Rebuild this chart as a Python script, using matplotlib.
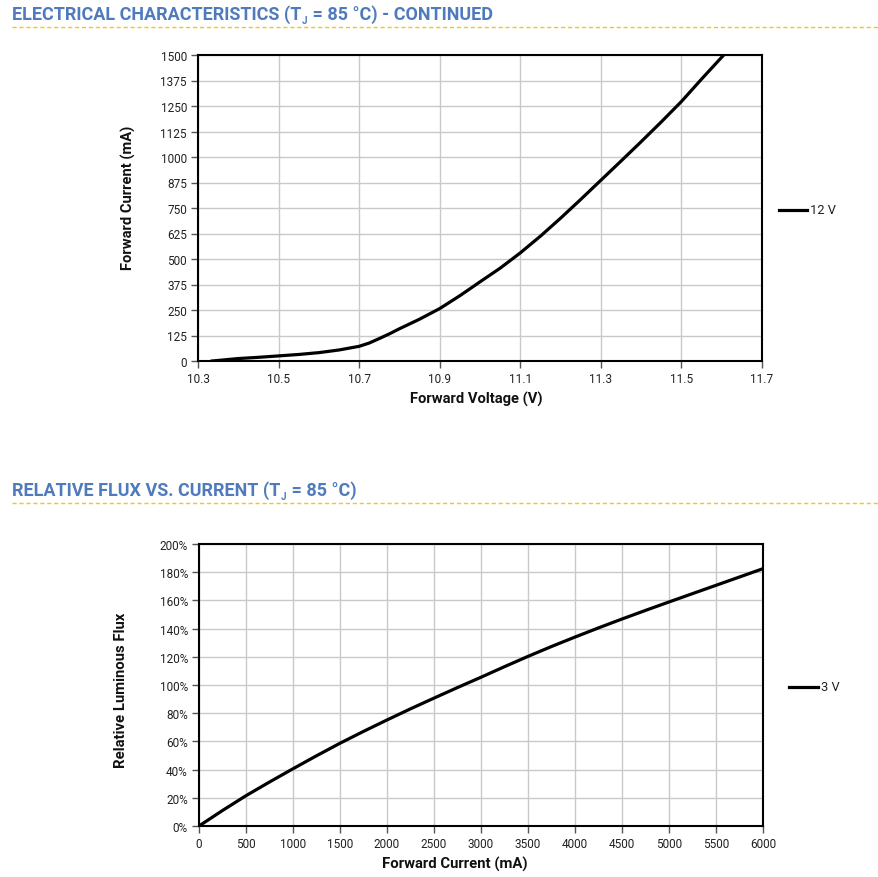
import matplotlib
matplotlib.use("Agg")
import matplotlib.pyplot as plt
from matplotlib.lines import Line2D

plt.rcParams['font.family'] = ['Roboto', 'DejaVu Sans']

# ---- data ----
voltage = [10.335, 10.4, 10.45, 10.5, 10.55, 10.6, 10.65, 10.7, 10.725, 10.75, 10.775, 10.8,
           10.85, 10.9, 10.95, 11.0, 11.05, 11.1, 11.15, 11.2, 11.25, 11.3, 11.35, 11.4,
           11.45, 11.5, 11.55, 11.605]
current_ma = [0, 12, 18, 25, 32, 41, 54, 72, 88, 110, 133, 158,
              205, 257, 320, 388, 455, 530, 612, 700, 792, 886, 980, 1075,
              1172, 1272, 1382, 1500]
v_ticks = [10.3, 10.5, 10.7, 10.9, 11.1, 11.3, 11.5, 11.7]
i_ticks = list(range(0, 1501, 125))

flux_current = [0, 250, 500, 750, 1000, 1250, 1500, 1750, 2000, 2250, 2500, 2750, 3000,
                3250, 3500, 3750, 4000, 4250, 4500, 4750, 5000, 5250, 5500, 5750, 6000]
rel_flux = [0, 11.0, 21.5, 31.2, 40.6, 49.8, 58.7, 67.1, 75.2, 83.1, 90.7, 98.2, 105.5,
            113.0, 120.3, 127.3, 134.0, 140.5, 146.8, 152.9, 158.9, 164.8, 170.7, 176.6, 182.5]
fc_ticks = list(range(0, 6001, 500))
rf_ticks = list(range(0, 201, 20))

W, H = 879, 878
fig = plt.figure(figsize=(W / 100, H / 100), dpi=100)

def fx(px):
    return px / W

def fy(py):
    return 1 - py / H

TITLE_COLOR = '#4f7bbe'
GRID_COLOR = '#c9c9c9'
LW = 2.3

def title_with_sub(x, y, pre, sub, post, size=13.0):
    t1 = fig.text(fx(x), fy(y), pre, fontsize=size, fontweight='bold',
                  color=TITLE_COLOR, va='baseline', ha='left')
    fig.canvas.draw()
    r = fig.canvas.get_renderer()
    bb = t1.get_window_extent(renderer=r)
    x2 = bb.x1 / fig.dpi * 100
    t2 = fig.text(fx(x2 + 0.5), fy(y + 4), sub, fontsize=size * 0.55, fontweight='bold',
                  color=TITLE_COLOR, va='baseline', ha='left')
    bb2 = t2.get_window_extent(renderer=r)
    x3 = bb2.x1 / fig.dpi * 100
    fig.text(fx(x3 + 0.5), fy(y), post, fontsize=size, fontweight='bold',
             color=TITLE_COLOR, va='baseline', ha='left')

def dashed_rule(py):
    fig.add_artist(Line2D([fx(12), fx(879)], [fy(py), fy(py)], transform=fig.transFigure,
                          color='#f2c811', linewidth=1.0, linestyle=(0, (3, 2))))

title_with_sub(12, 20, "ELECTRICAL CHARACTERISTICS (T", "J", " = 85 °C) - CONTINUED")
dashed_rule(28)
title_with_sub(12, 496, "RELATIVE FLUX VS. CURRENT (T", "J", " = 85 °C)")
dashed_rule(504)

def style_axes(ax):
    ax.grid(True, color=GRID_COLOR, linewidth=1.0)
    ax.set_axisbelow(True)
    for s in ax.spines.values():
        s.set_color('black')
        s.set_linewidth(1.5)
    ax.tick_params(direction='out', length=5, width=1, color='#555555',
                   labelsize=8.5, labelcolor='#222222', pad=3)

# ---- top chart ----
ax1 = fig.add_axes([fx(198), fy(362), fx(762) - fx(198), fy(56) - fy(362)])
ax1.plot(voltage, current_ma, color='black', linewidth=LW, solid_joinstyle='round')
ax1.set_xlim(10.3, 11.7)
ax1.set_ylim(0, 1500)
ax1.set_xticks(v_ticks)
ax1.set_xticklabels([f"{v:.1f}" for v in v_ticks])
ax1.set_yticks(i_ticks)
ax1.set_yticklabels([str(v) for v in i_ticks])
style_axes(ax1)
fig.text(fx(476), fy(399), "Forward Voltage (V)", fontsize=10.6, fontweight='bold',
         ha='center', va='center', color='#111111')
fig.text(fx(128), fy(198), "Forward Current (mA)", fontsize=10.6, fontweight='bold',
         ha='center', va='center', rotation=90, color='#111111')
fig.add_artist(Line2D([fx(779), fx(807)], [fy(211), fy(211)], transform=fig.transFigure,
                      color='black', linewidth=LW))
fig.text(fx(810), fy(211), "12 V", fontsize=9.3, ha='left', va='center', color='#222222')

# ---- bottom chart ----
ax2 = fig.add_axes([fx(199), fy(827), fx(763) - fx(199), fy(545) - fy(827)])
ax2.plot(flux_current, rel_flux, color='black', linewidth=LW, solid_joinstyle='round')
ax2.set_xlim(0, 6000)
ax2.set_ylim(0, 200)
ax2.set_xticks(fc_ticks)
ax2.set_xticklabels([str(v) for v in fc_ticks])
ax2.set_yticks(rf_ticks)
ax2.set_yticklabels([f"{v}%" for v in rf_ticks])
style_axes(ax2)
fig.text(fx(455), fy(864), "Forward Current (mA)", fontsize=10.7, fontweight='bold',
         ha='center', va='center', color='#111111')
fig.text(fx(121), fy(690), "Relative Luminous Flux", fontsize=10.7, fontweight='bold',
         ha='center', va='center', rotation=90, color='#111111')
fig.add_artist(Line2D([fx(789), fx(818)], [fy(688), fy(688)], transform=fig.transFigure,
                      color='black', linewidth=LW))
fig.text(fx(821), fy(688), "3 V", fontsize=9.3, ha='left', va='center', color='#222222')

fig.savefig("out.png", dpi=100)
